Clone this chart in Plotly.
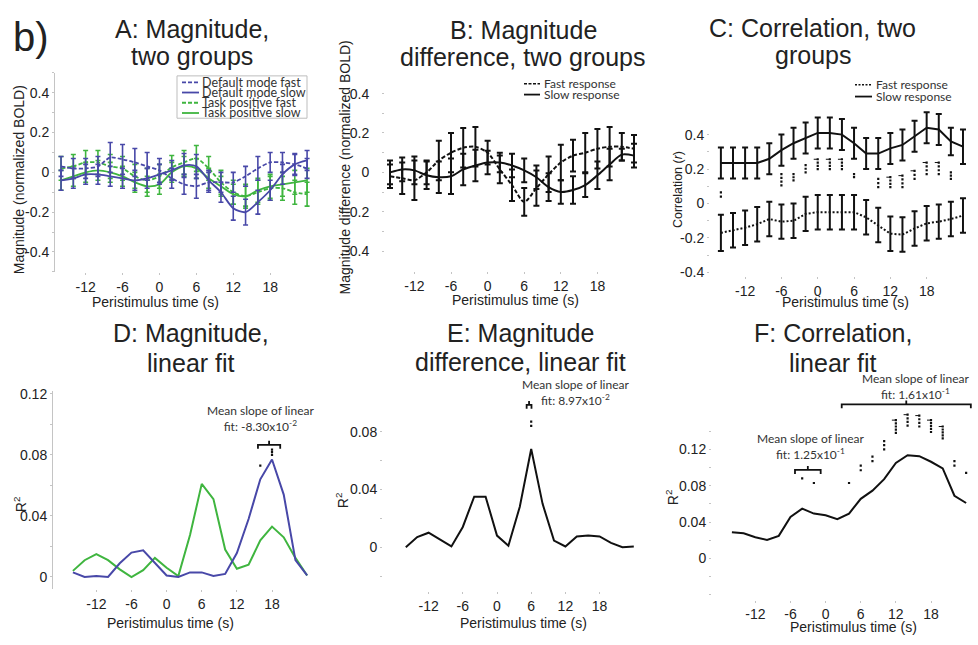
import plotly.graph_objects as go

W, H = 978, 645

# ---------------- data ----------------
t = [-16, -14, -12, -10, -8, -6, -4, -2, 0, 2, 4, 6, 8, 10, 12, 14, 16, 18, 20, 22, 24]
x_ticks = [-12, -6, 0, 6, 12, 18]
x_ticktext = ["-12", "-6", "0", "6", "12", "18"]

# A: magnitude, two groups
dm_fast = [0.03, 0.02, 0.02, 0.03, 0.075, 0.065, 0.05, 0.03, 0.01, -0.03, -0.06, -0.07, -0.05, -0.05, -0.05, -0.02, 0.02, 0.05, 0.05, 0.04, 0.02]
dm_fast_err = [0.05, 0.05, 0.05, 0.05, 0.075, 0.075, 0.07, 0.07, 0.06, 0.05, 0.05, 0.06, 0.05, 0.05, 0.05, 0.05, 0.06, 0.05, 0.05, 0.055, 0.05]
dm_slow = [-0.04, -0.03, -0.01, -0.01, -0.02, -0.03, -0.04, -0.03, -0.01, 0.01, 0.035, 0.03, -0.04, -0.1, -0.18, -0.2, -0.15, -0.09, -0.01, 0.04, 0.06]
dm_slow_err = [0.05, 0.05, 0.05, 0.05, 0.05, 0.05, 0.05, 0.05, 0.05, 0.05, 0.06, 0.06, 0.05, 0.05, 0.06, 0.065, 0.06, 0.05, 0.05, 0.05, 0.05]
tp_fast = [0.02, 0.03, 0.05, 0.05, 0.03, 0.02, -0.02, -0.04, -0.02, 0.025, 0.05, 0.07, 0.02, -0.05, -0.1, -0.12, -0.1, -0.08, -0.08, -0.1, -0.11]
tp_fast_err = [0.06, 0.06, 0.06, 0.06, 0.06, 0.06, 0.06, 0.06, 0.06, 0.06, 0.06, 0.065, 0.06, 0.06, 0.06, 0.06, 0.06, 0.06, 0.06, 0.06, 0.06]
tp_slow = [-0.04, -0.02, 0.0, 0.01, 0.0, -0.02, -0.05, -0.07, -0.06, 0.0, 0.03, 0.02, -0.03, -0.07, -0.11, -0.12, -0.09, -0.07, -0.06, -0.05, -0.04]
tp_slow_err = [0.05, 0.05, 0.05, 0.05, 0.05, 0.05, 0.05, 0.05, 0.05, 0.05, 0.05, 0.05, 0.05, 0.05, 0.05, 0.05, 0.06, 0.06, 0.06, 0.06, 0.06]

# B: magnitude difference, two groups
b_fast = [-0.02, -0.03, -0.04, 0.0, 0.06, 0.1, 0.125, 0.13, 0.1, 0.015, -0.065, -0.15, -0.08, -0.01, 0.05, 0.085, 0.1, 0.12, 0.13, 0.13, 0.12]
b_fast_err = [0.06, 0.08, 0.1, 0.06, 0.1, 0.1, 0.1, 0.1, 0.06, 0.07, 0.08, 0.07, 0.09, 0.09, 0.09, 0.08, 0.1, 0.1, 0.1, 0.07, 0.07]
b_slow = [0.0, 0.015, 0.01, -0.015, -0.025, -0.02, 0.015, 0.035, 0.05, 0.05, 0.035, 0.01, -0.025, -0.075, -0.1, -0.09, -0.065, -0.015, 0.04, 0.09, 0.085]
b_slow_err = [0.06, 0.06, 0.07, 0.07, 0.08, 0.09, 0.08, 0.08, 0.06, 0.05, 0.06, 0.06, 0.06, 0.07, 0.06, 0.07, 0.06, 0.07, 0.08, 0.03, 0.06]

# C: correlation, two groups
c_slow = [0.235, 0.235, 0.235, 0.235, 0.26, 0.31, 0.35, 0.38, 0.41, 0.41, 0.40, 0.35, 0.29, 0.29, 0.32, 0.34, 0.39, 0.44, 0.43, 0.36, 0.33]
c_slow_err = [0.09, 0.09, 0.09, 0.09, 0.09, 0.09, 0.09, 0.09, 0.09, 0.09, 0.09, 0.09, 0.09, 0.09, 0.09, 0.09, 0.09, 0.09, 0.09, 0.08, 0.1]
c_fast = [-0.17, -0.155, -0.14, -0.12, -0.09, -0.105, -0.1, -0.06, -0.05, -0.05, -0.05, -0.05, -0.08, -0.125, -0.175, -0.18, -0.145, -0.115, -0.105, -0.09, -0.07]
c_fast_err = [0.105, 0.1, 0.1, 0.1, 0.1, 0.1, 0.1, 0.1, 0.1, 0.1, 0.1, 0.1, 0.1, 0.1, 0.1, 0.1, 0.1, 0.1, 0.1, 0.1, 0.1]
# significance marks (time, low, high, has_cap)
c_sig_t = [-16, -6, -4, -2, 0, 2, 4, 6, 10, 12, 14, 16, 18, 20, 22]
c_sig_lo = [0.04, 0.105, 0.134, 0.181, 0.2, 0.2, 0.2, 0.153, 0.095, 0.095, 0.095, 0.143, 0.171, 0.171, 0.143]
c_sig_hi = [0.065, 0.171, 0.171, 0.223, 0.257, 0.257, 0.257, 0.171, 0.143, 0.153, 0.162, 0.19, 0.238, 0.238, 0.181]
c_sig_cap = [0, 0, 0, 0, 1, 1, 1, 0, 0, 1, 1, 1, 1, 1, 0]

# D: magnitude, linear fit (R^2)
d_tp = [0.004, 0.011, 0.015, 0.011, 0.005, 0.0, 0.0045, 0.0125, 0.006, 0.0006, 0.0275, 0.061, 0.051, 0.018, 0.0054, 0.008, 0.024, 0.033, 0.026, 0.0125, 0.001]
d_dm = [0.003, 0.0, 0.0006, 0.0, 0.009, 0.016, 0.0175, 0.009, 0.001, 0.0, 0.003, 0.003, 0.0006, 0.002, 0.0157, 0.038, 0.064, 0.077, 0.054, 0.011, 0.001]
d_sig_t = [16, 18]
d_sig_lo = [0.0729, 0.080]
d_sig_hi = [0.0729, 0.0835]
d_sig_cap = [0, 0]

# E: magnitude difference, linear fit
e_r2 = [0.0, 0.007, 0.01, 0.005, 0.0005, 0.014, 0.035, 0.035, 0.008, 0.001, 0.028, 0.068, 0.03, 0.0046, 0.0005, 0.0074, 0.008, 0.0074, 0.003, 0.0, 0.0005]
e_sig_t = [6]
e_sig_lo = [0.084]
e_sig_hi = [0.087]
e_sig_cap = [0]

# F: correlation, linear fit
f_r2 = [0.0288, 0.0277, 0.0234, 0.0205, 0.0249, 0.0458, 0.0548, 0.0494, 0.0476, 0.0432, 0.0494, 0.0656, 0.0746, 0.0872, 0.105, 0.1135, 0.1124, 0.1063, 0.099, 0.069, 0.061]
f_sig_t = [-4, -2, 4, 6, 8, 10, 12, 14, 16, 18, 20, 22, 24]
f_sig_lo = [0.088, 0.083, 0.083, 0.097, 0.107, 0.120, 0.138, 0.146, 0.145, 0.139, 0.132, 0.102, 0.094]
f_sig_hi = [0.088, 0.083, 0.083, 0.102, 0.112, 0.129, 0.152, 0.158, 0.157, 0.152, 0.145, 0.107, 0.094]
f_sig_cap = [0, 0, 0, 0, 0, 0, 1, 1, 1, 1, 1, 0, 0]

# brackets for linear-fit slope annotations: (panel, x_start, x_end, y)
brackets = [("D", 15.6, 19.4, 0.0866), ("E", 5.2, 6.05, 0.0985), ("F", 2.75, 24.8, 0.1693), ("F", -5.23, -0.84, 0.0973)]
# slope notes (pixel centre x, y, text)
slope_notes = [(260, 420, "Mean slope of linear<br>fit: -8.30x10<sup>-2</sup>"),
               (575, 394, "Mean slope of linear<br>fit: 8.97x10<sup>-2</sup>"),
               (915, 387, "Mean slope of linear<br>fit: 1.61x10<sup>-1</sup>"),
               (810, 448, "Mean slope of linear<br>fit: 1.25x10<sup>-1</sup>")]

BLUE = "#4848a8"
GREEN = "#3fb53f"
BLACK = "#111111"
TXT = "#222222"
AXC = "#c4c4c4"

# ---------------- panel geometry (pixels) ----------------
P = {
    "A": dict(ax="", xdom=(55, 312), xr=(-16.98, 24.8), ydom=(69, 271), yr=(-0.5, 0.5),
              yt=[-0.4, -0.2, 0, 0.2, 0.4], ytt=["-0.4", "-0.2", "0", "0.2", "0.4"],
              ym=[-0.5, -0.3, -0.1, 0.1, 0.3, 0.5], line=True, ystand=0),
    "B": dict(ax="2", xdom=(385, 640), xr=(-16.82, 24.98), ydom=(70, 270), yr=(-0.5, 0.5),
              yt=[-0.4, -0.2, 0, 0.2, 0.4], ytt=["-0.4", "-0.2", "0", "0.2", "0.4"],
              ym=[-0.3, -0.1, 0.1, 0.3], line=False, ystand=10),
    "C": dict(ax="3", xdom=(710, 966), xr=(-17.8, 24.5), ydom=(104, 275), yr=(-0.419, 0.558),
              yt=[-0.4, -0.2, 0, 0.2, 0.4], ytt=["-0.4", "-0.2", "0", "0.2", "0.4"],
              ym=[-0.3, -0.1, 0.1, 0.3], line=False, ystand=0),
    "D": dict(ax="4", xdom=(53, 313), xr=(-19.4, 25.0), ydom=(392, 593.4), yr=(-0.008, 0.1219),
              yt=[0, 0.04, 0.08, 0.12], ytt=["0", "0.04", "0.08", "0.12"],
              ym=[0.02, 0.06, 0.1], line=True, ystand=0),
    "E": dict(ax="5", xdom=(383, 639.5), xr=(-20.0, 25.0), ydom=(397, 595), yr=(-0.0302, 0.1048),
              yt=[0, 0.04, 0.08], ytt=["0", "0.04", "0.08"],
              ym=[-0.02, 0.02, 0.06], line=False, ystand=0),
    "F": dict(ax="6", xdom=(712, 972), xr=(-19.4, 25.0), ydom=(398, 604), yr=(-0.0451, 0.1776),
              yt=[0, 0.04, 0.08, 0.12], ytt=["0", "0.04", "0.08", "0.12"],
              ym=[-0.04, -0.02, 0.02, 0.06, 0.1, 0.14], line=False, ystand=0),
}


def px(v):
    return v / W


def py(v):
    return 1 - v / H


fig = go.Figure()


def refs(k):
    a = P[k]["ax"]
    return "x" + a, "y" + a


def add_line(k, y, color, dash="solid", err=None, shape="linear", width=2):
    xr, yr = refs(k)
    tr = go.Scatter(x=t, y=y, mode="lines", xaxis=xr, yaxis=yr, showlegend=False,
                    line=dict(color=color, width=width, dash=dash, shape=shape, smoothing=0.8),
                    hoverinfo="skip")
    if err is not None:
        tr.error_y = dict(type="data", array=err, visible=True, color=color, thickness=1.6 if k == "A" else 2,
                          width=2.5 if k == "A" else 3)
    fig.add_trace(tr)


# A
add_line("A", tp_fast, GREEN, "4px,2px", tp_fast_err, "spline", 1.8)
add_line("A", tp_slow, GREEN, "solid", tp_slow_err, "spline", 1.8)
add_line("A", dm_fast, BLUE, "4px,2px", dm_fast_err, "spline", 1.8)
add_line("A", dm_slow, BLUE, "solid", dm_slow_err, "spline", 1.8)
# B
add_line("B", b_fast, BLACK, "4px,2px", b_fast_err, "spline")
add_line("B", b_slow, BLACK, "solid", b_slow_err, "spline")
# C
add_line("C", c_fast, BLACK, "2px,2px", c_fast_err)
add_line("C", c_slow, BLACK, "solid", c_slow_err)
# D
add_line("D", d_tp, GREEN)
add_line("D", d_dm, BLUE)
# E
add_line("E", e_r2, BLACK)
# F
add_line("F", f_r2, BLACK)


# significance marks: stacks of small dots, optional cap tick
def add_sig(k, ts, lo, hi, cap):
    xr, yr = refs(k)
    g = P[k]
    ppu = (g["ydom"][1] - g["ydom"][0]) / (g["yr"][1] - g["yr"][0])
    pxs = (g["xdom"][1] - g["xdom"][0]) / (g["xr"][1] - g["xr"][0])
    xs, ys = [], []
    cx, cy = [], []
    for ti, a, b, c in zip(ts, lo, hi, cap):
        n = max(1, int(round((b - a) * ppu / 3.4)) + 1)
        for j in range(n):
            xs.append(ti)
            ys.append(a + (b - a) * (j / (n - 1) if n > 1 else 0))
        if c:
            cx += [ti - 4.0 / pxs, ti, None]
            cy += [b, b, None]
    fig.add_trace(go.Scatter(x=xs, y=ys, mode="markers", xaxis=xr, yaxis=yr, showlegend=False,
                             marker=dict(symbol="square", size=2.2, color=BLACK, line=dict(width=0)),
                             hoverinfo="skip"))
    if cx:
        fig.add_trace(go.Scatter(x=cx, y=cy, mode="lines", xaxis=xr, yaxis=yr, showlegend=False,
                                 line=dict(color=BLACK, width=1), hoverinfo="skip"))


add_sig("C", c_sig_t, c_sig_lo, c_sig_hi, c_sig_cap)
add_sig("D", d_sig_t, d_sig_lo, d_sig_hi, d_sig_cap)
add_sig("E", e_sig_t, e_sig_lo, e_sig_hi, e_sig_cap)
add_sig("F", f_sig_t, f_sig_lo, f_sig_hi, f_sig_cap)

# ---------------- axes ----------------
layout = {}
for k, g in P.items():
    a = g["ax"]
    xa = "xaxis" + a
    ya = "yaxis" + a
    layout[xa] = dict(domain=[px(g["xdom"][0]), px(g["xdom"][1])], range=list(g["xr"]),
                      anchor="y" + a, tickmode="array", tickvals=x_ticks, ticktext=x_ticktext,
                      showgrid=False, zeroline=False, showline=False, ticks="outside",
                      ticklen=2, tickcolor=AXC, tickfont=dict(family="Liberation Sans", size=14, color=TXT),
                      fixedrange=True)
    layout[ya] = dict(domain=[py(g["ydom"][1]), py(g["ydom"][0])], range=list(g["yr"]),
                      anchor="x" + a, tickmode="array", tickvals=g["yt"], ticktext=g["ytt"],
                      showgrid=False, zeroline=False, showline=g["line"], linecolor=AXC, linewidth=1,
                      ticks="outside", ticklen=2, tickcolor=AXC, ticklabelstandoff=g["ystand"],
                      tickfont=dict(family="Liberation Sans", size=14, color=TXT),
                      minor=dict(tickmode="array", tickvals=g["ym"], ticks="outside", ticklen=2,
                                 tickcolor=AXC, showgrid=False),
                      fixedrange=True)

ann = []
shapes = []


def text(x, y, s, size=14, family="Liberation Sans", angle=0, xanchor="center", color=TXT):
    ann.append(dict(x=px(x), y=py(y), xref="paper", yref="paper", text=s, showarrow=False,
                    font=dict(family=family, size=size, color=color), textangle=angle,
                    xanchor=xanchor, yanchor="middle"))


# big label
text(31, 33, "b)", size=40)
# panel titles
titles = [(192, 24, "A: Magnitude,"), (192, 52, "two groups"),
          (523, 25, "B: Magnitude"), (523, 53, "difference, two groups"),
          (812, 23, "C: Correlation, two"), (813, 51, "groups"),
          (191, 333, "D: Magnitude,"), (191, 364, "linear fit"),
          (520, 333, "E: Magnitude"), (520, 363, "difference, linear fit"),
          (833, 333, "F: Correlation,"), (833, 364, "linear fit")]
for x, y, s in titles:
    text(x, y, s, size=25)

# axis titles
for x, y in [(155, 302), (515, 300), (845, 302), (170, 628), (523, 628), (853, 632)]:
    text(x, y, "Peristimulus time (s)", size=14)
text(19, 178, "Magnitude (normalized BOLD)", size=14, angle=-90)
text(345, 165, "Magnitude difference (normalized BOLD)", size=14, angle=-90)
text(678, 188, "Correlation (<i>r</i>)", size=12.5, angle=-90)
for x, y in [(20, 507), (342, 503), (672, 500)]:
    text(x, y, "R<sup>2</sup>", size=14, angle=-90)

# legends (drawn manually)
shapes.append(dict(type="rect", xref="paper", yref="paper", x0=px(177), x1=px(307), y0=py(115), y1=py(72),
                   line=dict(color="#bdbdbd", width=1)))
leg_A = [("Default mode fast", BLUE, "4px,2px"), ("Default mode slow", BLUE, "solid"),
         ("Task positive fast", GREEN, "4px,2px"), ("Task positive slow", GREEN, "solid")]
for i, (s, c, d) in enumerate(leg_A):
    yy = 78.5 + i * 10.4
    shapes.append(dict(type="line", xref="paper", yref="paper", x0=px(182), x1=px(199), y0=py(yy), y1=py(yy),
                       line=dict(color=c, width=1.8, dash=d)))
    text(199.5, yy, s, size=12.5, family="Lato", xanchor="left", color="#333")

for (lx0, lx1, y1, y2, fdash) in [(524, 540, 80, 91, "3px,1.5px"), (855, 872, 81, 93, "2px,1.5px")]:
    shapes.append(dict(type="line", xref="paper", yref="paper", x0=px(lx0), x1=px(lx1), y0=py(y1), y1=py(y1),
                       line=dict(color=BLACK, width=1.5, dash=fdash)))
    shapes.append(dict(type="line", xref="paper", yref="paper", x0=px(lx0), x1=px(lx1), y0=py(y2), y1=py(y2),
                       line=dict(color=BLACK, width=1.8)))
    text(lx1 + 1.5, y1, "Fast response", size=12, family="Lato", xanchor="left", color="#333")
    text(lx1 + 1.5, y2, "Slow response", size=12, family="Lato", xanchor="left", color="#333")

# brackets and slope notes
for k, x0, x1, y in brackets:
    g = P[k]
    ppu = (g["ydom"][1] - g["ydom"][0]) / (g["yr"][1] - g["yr"][0])
    d = 4.0 / ppu
    xm = (x0 + x1) / 2
    xr, yr = refs(k)
    path = (f"M {x0},{y - d} L {x0},{y} L {x1},{y} L {x1},{y - d} "
            f"M {xm},{y} L {xm},{y + d}")
    shapes.append(dict(type="path", xref=xr, yref=yr, path=path, line=dict(color=BLACK, width=1.8)))

for x, y, s in slope_notes:
    ann.append(dict(x=px(x), y=py(y), xref="paper", yref="paper", text=s, showarrow=False, align="center",
                    font=dict(family="Lato", size=12, color="#333"), xanchor="center", yanchor="middle"))

fig.update_layout(width=W, height=H, margin=dict(l=0, r=0, t=0, b=0),
                  paper_bgcolor="white", plot_bgcolor="white", showlegend=False,
                  annotations=ann, shapes=shapes, **layout)

fig.write_html("out.html")
